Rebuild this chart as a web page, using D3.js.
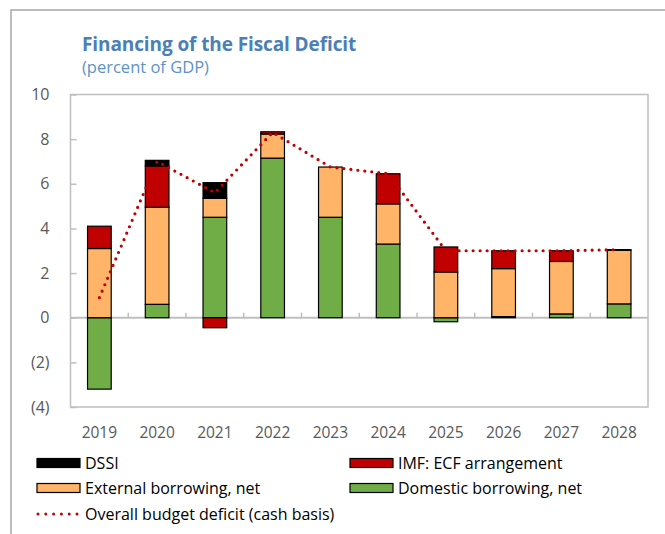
<!DOCTYPE html>
<html>
<head>
<meta charset="utf-8">
<script src="https://cdn.jsdelivr.net/npm/d3@7"></script>
<style>
  html, body { margin: 0; padding: 0; background: #fff; }
  svg { display: block; }
  text { font-family: "Open Sans", "Noto Sans", sans-serif; }
</style>
</head>
<body>
<svg id="chart" width="665" height="534"></svg>
<script>
// Financing of the fiscal deficit, percent of GDP
const years = ["2019", "2020", "2021", "2022", "2023", "2024", "2025", "2026", "2027", "2028"];
const domestic = [-3.2, 0.6, 4.5, 7.15, 4.5, 3.3, -0.18, 0.05, 0.17, 0.62];
const external = [3.1, 4.35, 0.85, 1.08, 2.25, 1.8, 2.05, 2.15, 2.35, 2.4];
const imf      = [1.0, 1.85, -0.45, 0.1, 0.0, 1.35, 1.12, 0.8, 0.48, 0.03];
const dssi     = [0.0, 0.25, 0.7, 0.0, 0.0, 0.0, 0.0, 0.0, 0.0, 0.0];
const deficit  = [0.9, 7.0, 5.6, 8.3, 6.75, 6.45, 3.0, 3.0, 3.0, 3.05];
const yTicks = [-4, -2, 0, 2, 4, 6, 8, 10];

const seriesKeys = ["domestic", "external", "imf", "dssi"];
const seriesColors = { domestic: "#70AD47", external: "#FFB468", imf: "#C00000", dssi: "#000000" };

const rows = years.map((y, i) => ({
  year: y, domestic: domestic[i], external: external[i], imf: imf[i], dssi: dssi[i]
}));

const svg = d3.select("#chart");
const plot = { left: 70.5, top: 94.5, right: 648, bottom: 407 };

// outer panel border
svg.append("path")
  .attr("d", "M11,534 V10 H665")
  .attr("fill", "none").attr("stroke", "#A6A6A6").attr("stroke-width", 1.5);

// title block
svg.append("text").attr("x", 82).attr("y", 50.5)
  .attr("fill", "#4A80B5").attr("font-weight", 700).attr("font-size", 19)
  .attr("letter-spacing", -0.1)
  .text("Financing of the Fiscal Deficit");
svg.append("text").attr("x", 82).attr("y", 73)
  .attr("fill", "#5B92C8").attr("font-size", 16.5)
  .text("(percent of GDP)");

const x = d3.scaleBand().domain(years).range([plot.left, plot.right])
  .paddingInner(0.59).paddingOuter(0.295);
const y = d3.scaleLinear().domain([-4, 10]).range([plot.bottom, plot.top]);

// plot frame
svg.append("rect")
  .attr("x", plot.left).attr("y", plot.top)
  .attr("width", plot.right - plot.left).attr("height", plot.bottom - plot.top)
  .attr("fill", "none").attr("stroke", "#BFBFBF").attr("stroke-width", 1.5);

// y axis: labels outside, short ticks inside
const yAxis = d3.axisRight(y).tickValues(yTicks).tickSize(6)
  .tickFormat(d => d < 0 ? `(${Math.abs(d)})` : `${d}`);
const gy = svg.append("g").attr("transform", `translate(${plot.left},0)`).call(yAxis);
gy.select(".domain").remove();
gy.selectAll(".tick line").attr("stroke", "#BFBFBF").attr("stroke-width", 1.5);
gy.selectAll(".tick text")
  .attr("x", -21).attr("text-anchor", "end")
  .attr("fill", "#595959").attr("font-size", 16)
  .style("font-family", "'Open Sans', sans-serif");

// x axis on zero line, ticks between categories pointing up
const zeroY = y(0);
svg.append("line")
  .attr("x1", plot.left).attr("x2", plot.right)
  .attr("y1", zeroY).attr("y2", zeroY)
  .attr("stroke", "#BFBFBF").attr("stroke-width", 2);
const step = x.step();
svg.append("g").selectAll("line")
  .data(years.slice(1))
  .join("line")
  .attr("x1", d => x(d) - (step - x.bandwidth()) / 2)
  .attr("x2", d => x(d) - (step - x.bandwidth()) / 2)
  .attr("y1", zeroY).attr("y2", zeroY - 5)
  .attr("stroke", "#BFBFBF").attr("stroke-width", 1.5);

// category labels below plot
svg.append("g").selectAll("text")
  .data(years)
  .join("text")
  .attr("x", d => x(d) + x.bandwidth() / 2)
  .attr("y", 438)
  .attr("text-anchor", "middle")
  .attr("fill", "#595959").attr("font-size", 15.5)
  .text(d => d);

// stacked bars (diverging for negative contributions)
const stack = d3.stack().keys(seriesKeys).offset(d3.stackOffsetDiverging);
const layers = stack(rows);
svg.append("g").selectAll("g")
  .data(layers)
  .join("g")
  .attr("fill", d => seriesColors[d.key])
  .selectAll("rect")
  .data(d => d.filter(s => s[1] !== s[0]))
  .join("rect")
  .attr("x", d => x(d.data.year))
  .attr("width", x.bandwidth())
  .attr("y", d => y(Math.max(d[0], d[1])))
  .attr("height", d => Math.abs(y(d[0]) - y(d[1])))
  .attr("stroke", "#000").attr("stroke-width", 1.2);

// overall deficit, dotted line
const line = d3.line()
  .x((d, i) => x(years[i]) + x.bandwidth() / 2)
  .y(d => y(d));
svg.append("path")
  .datum(deficit)
  .attr("d", line)
  .attr("fill", "none")
  .attr("stroke", "#C00000").attr("stroke-width", 3.2)
  .attr("stroke-linecap", "round")
  .attr("stroke-dasharray", "0 7");

// legend
const legendItems = [
  { name: "DSSI", key: "dssi", x: 37, y: 463 },
  { name: "IMF: ECF arrangement", key: "imf", x: 350, y: 463 },
  { name: "External borrowing, net", key: "external", x: 37, y: 488 },
  { name: "Domestic borrowing, net", key: "domestic", x: 350, y: 488 }
];
const lg = svg.append("g");
legendItems.forEach(it => {
  lg.append("rect")
    .attr("x", it.x).attr("y", it.y - 4.5)
    .attr("width", 43).attr("height", 9)
    .attr("fill", seriesColors[it.key])
    .attr("stroke", "#000").attr("stroke-width", 1.2);
  lg.append("text")
    .attr("x", it.x + 48).attr("y", it.y + 5.5)
    .attr("fill", "#000").attr("font-size", 16)
    .text(it.name);
});
lg.append("line")
  .attr("x1", 38).attr("x2", 78).attr("y1", 514).attr("y2", 514)
  .attr("stroke", "#C00000").attr("stroke-width", 3)
  .attr("stroke-linecap", "round").attr("stroke-dasharray", "0 7.8");
lg.append("text")
  .attr("x", 85).attr("y", 519.5)
  .attr("fill", "#000").attr("font-size", 16)
  .text("Overall budget deficit (cash basis)");
</script>
</body>
</html>
